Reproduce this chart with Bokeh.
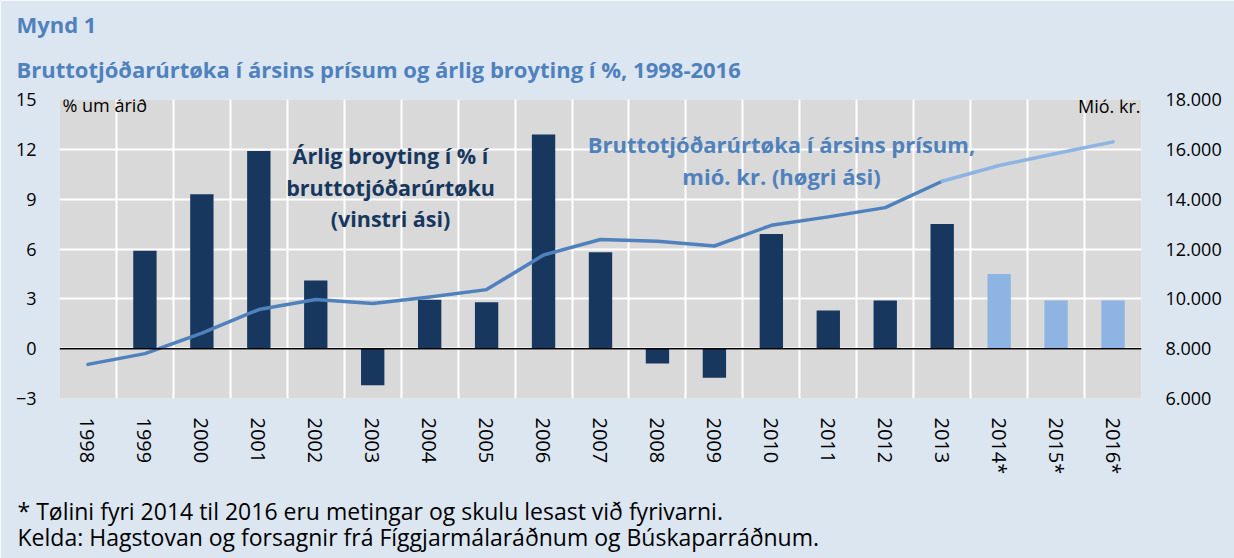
import math
import numpy as np
from bokeh.plotting import figure
from bokeh.models import ColumnDataSource, Range1d, LinearAxis, FixedTicker, Span, Label, Title
from bokeh.embed import file_html
from bokeh.resources import INLINE

# ---- data ----
years = ["1998", "1999", "2000", "2001", "2002", "2003", "2004", "2005", "2006",
         "2007", "2008", "2009", "2010", "2011", "2012", "2013", "2014*", "2015*", "2016*"]
growth_pct = [float("nan"), 5.9, 9.3, 11.9, 4.1, -2.2, 2.95, 2.8, 12.9,
              5.8, -0.9, -1.75, 6.9, 2.3, 2.9, 7.5, 4.5, 2.9, 2.9]
gdp_mkr = [7370, 7800, 8620, 9570, 9970, 9810, 10070, 10370, 11760,
           12380, 12310, 12120, 12950, 13290, 13660, 14720, 15350, 15830, 16300]
left_ticks = [-3, 0, 3, 6, 9, 12, 15]
right_ticks = [6000, 8000, 10000, 12000, 14000, 16000, 18000]

# ---- styles ----
BG = "#DCE6F1"
PLOT_BG = "#D9D9D9"
DARK = "#17375E"
LIGHT = "#8DB4E2"
LINE = "#4F81BD"
TITLE = "#4F81BD"
FONT = "Open Sans"

n = len(years)
xs = [i + 0.5 for i in range(n)]
is_fc = [y.endswith("*") for y in years]
first_fc = is_fc.index(True)
colors = [LIGHT if f else DARK for f in is_fc]

p = figure(width=1234, height=558, output_backend="svg", toolbar_location=None,
           x_range=Range1d(0, n), y_range=Range1d(left_ticks[0], left_ticks[-1]),
           min_border_left=59, min_border_right=93, min_border_top=99, min_border_bottom=160,
           background_fill_color=PLOT_BG, border_fill_color=BG, outline_line_color=None)
p.extra_y_ranges = {"gdp": Range1d(right_ticks[0], right_ticks[-1])}

p.xgrid.ticker = FixedTicker(ticks=list(range(0, n + 1)))
p.ygrid.ticker = FixedTicker(ticks=left_ticks)
for g in (p.xgrid[0], p.ygrid[0]):
    g.grid_line_color = "white"
    g.grid_line_width = 2

xa = p.xaxis[0]
xa.ticker = FixedTicker(ticks=xs)
xa.major_label_overrides = {x: y for x, y in zip(xs, years)}
xa.major_label_orientation = -math.pi / 2
xa.major_label_standoff = 19
xa.major_label_text_font_size = "20px"

ya = p.yaxis[0]
ya.ticker = FixedTicker(ticks=left_ticks)
ya.major_label_standoff = 23
ya.major_label_text_font_size = "18px"

ra = LinearAxis(y_range_name="gdp", ticker=FixedTicker(ticks=right_ticks),
                major_label_overrides={t: f"{t:,}".replace(",", ".") for t in right_ticks})
ra.major_label_standoff = 24
ra.major_label_text_font_size = "18px"
p.add_layout(ra, "right")

for ax in (xa, ya, ra):
    ax.axis_line_color = None
    ax.major_tick_line_color = None
    ax.minor_tick_line_color = None
    ax.major_tick_out = 0
    ax.minor_tick_out = 0
    ax.major_label_text_font = FONT
    ax.major_label_text_color = "black"

src = ColumnDataSource(dict(x=xs, top=np.array(growth_pct, dtype=float), color=colors))
p.vbar(x="x", top="top", bottom=0, width=0.41, fill_color="color", line_color=None, source=src)

p.line(x=xs[:first_fc], y=gdp_mkr[:first_fc], y_range_name="gdp",
       line_color=LINE, line_width=3.5, line_cap="round", line_join="round")
p.line(x=xs[first_fc - 1:], y=gdp_mkr[first_fc - 1:], y_range_name="gdp",
       line_color=LIGHT, line_width=3.5, line_cap="round", line_join="round")

p.add_layout(Span(location=0, dimension="width", line_color="black", line_width=1.5))


def lab(text, x, y, size="18px", color="black", bold=False, align="left"):
    p.add_layout(Label(x=x, y=y, x_units="screen", y_units="screen", text=text,
                       text_font=FONT, text_font_size=size, text_color=color,
                       text_font_style="bold" if bold else "normal",
                       text_align=align, text_baseline="middle"))


lab("% um árið", 3, 294)
lab("Mió. kr.", 1081, 293, align="right")

lab("Árlig broyting í % í", 331, 243, size="21.5px", color=DARK, bold=True, align="center")
lab("bruttotjóðarúrtøku", 331, 211, size="21.5px", color=DARK, bold=True, align="center")
lab("(vinstri ási)", 331, 180, size="21.5px", color=DARK, bold=True, align="center")

lab("Bruttotjóðarúrtøka í ársins prísum,", 722, 255, size="22px", color=LINE, bold=True, align="center")
lab("mió. kr. (høgri ási)", 722, 223, size="22px", color=LINE, bold=True, align="center")

# ---- header titles (stacked outward from the frame: spacer, subtitle, "Mynd 1") ----
p.add_layout(Title(text=" ", align="left", standoff=0, text_font=FONT,
                   text_font_size="5px"), "above")
p.add_layout(Title(text="Bruttotjóðarúrtøka í ársins prísum og árlig broyting í %, 1998-2016",
                   align="left", offset=-43, standoff=16, vertical_align="bottom",
                   text_font=FONT, text_font_size="22px", text_font_style="bold",
                   text_color=TITLE), "above")
p.add_layout(Title(text="Mynd 1", align="left", offset=-43, standoff=9, vertical_align="bottom",
                   text_font=FONT, text_font_size="22px", text_font_style="bold",
                   text_color=TITLE), "above")

# ---- footer (spacer below the axis, then the notes) ----
p.add_layout(Title(text=" ", align="left", standoff=0, text_font=FONT,
                   text_font_size="9px"), "below")
p.add_layout(Title(text="* Tølini fyri 2014 til 2016 eru metingar og skulu lesast við fyrivarni.\n"
                        "Kelda: Hagstovan og forsagnir frá Fíggjarmálaráðnum og Búskaparráðnum.",
                   align="left", offset=-42, standoff=0, vertical_align="bottom",
                   text_font=FONT, text_font_size="23px", text_font_style="normal",
                   text_line_height=0.84, text_color="black"), "below")

open("out.html", "w").write(file_html(p, INLINE))
